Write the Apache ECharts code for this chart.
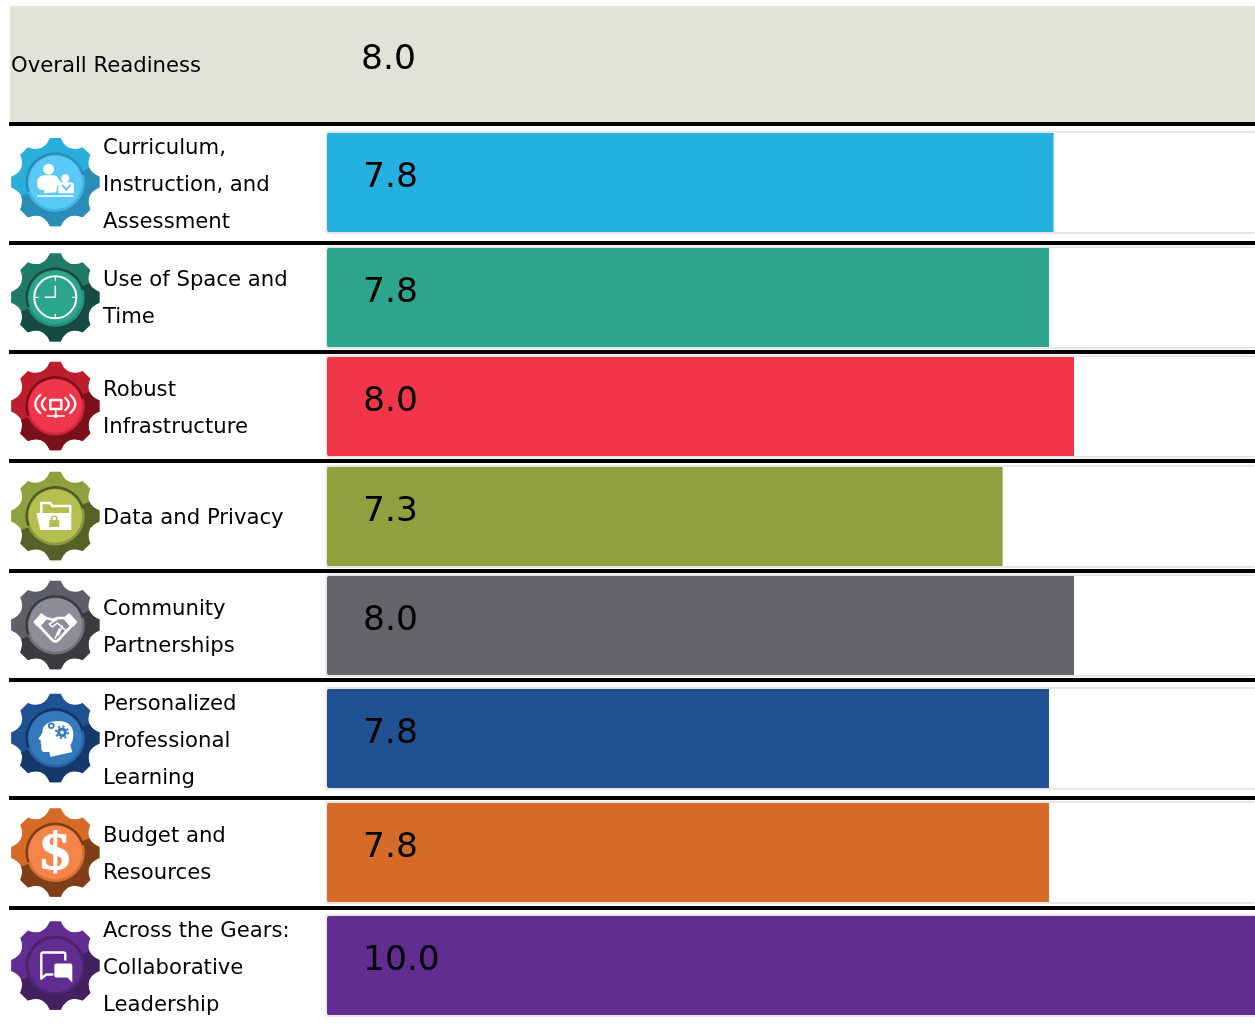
<!DOCTYPE html>
<html>
<head>
<meta charset="utf-8">
<title>Readiness</title>
<style>
  html, body { margin: 0; padding: 0; background: #fff; }
  #chart { width: 1255px; height: 1024px; }
</style>
<script src="https://cdn.jsdelivr.net/npm/echarts@6/dist/echarts.min.js"></script>
</head>
<body>
<div id="chart"></div>
<script>
// values
const categories = [
  "Overall Readiness",
  "Curriculum,\nInstruction, and\nAssessment",
  "Use of Space and\nTime",
  "Robust\nInfrastructure",
  "Data and Privacy",
  "Community\nPartnerships",
  "Personalized\nProfessional\nLearning",
  "Budget and\nResources",
  "Across the Gears:\nCollaborative\nLeadership",
];
const barValues = [8.05, 7.83, 7.78, 8.05, 7.28, 8.05, 7.78, 7.78, 10];
const valueLabels = ["8.0", "7.8", "7.8", "8.0", "7.3", "8.0", "7.8", "7.8", "10.0"];
const barColors = ["transparent", "#25b1e0", "#2da58c", "#f2364a", "#91a03f", "#646368", "#1f5193", "#d66b27", "#622d90"];

// layout
const FONT = "DejaVu Sans";
const plotLeft = 327;
const plotWidth = 928;
const barTops = [6, 133, 248, 357, 467, 576, 689, 803, 916];
const barHeight = 99;
const ruleTops = [122, 241, 350, 459, 569, 678, 796, 906];
const gearCenters = [182.2, 297.3, 406, 516, 625, 738, 852.5, 965.5];
// thin spacer line above each label block, nudges the text down by half of it
const labelSpacers = [4, 6, 2, 4, 4, 4, 6, 4, 6];
// gear colours: light half, dark half, dark arc, disc, lower ring
const gearColors = [
  ["#29afde", "#2a8db5", "#2a8db5", "#5ac9f5", "#3fb5e3"],
  ["#217a68", "#174a40", "#174a40", "#2ca58d", "#24907c"],
  ["#bd1e2d", "#7a1019", "#7a1019", "#f0364a", "#c8283a"],
  ["#8fa03f", "#556128", "#4f5a25", "#b5bf4f", "#8c9a3e"],
  ["#5f6067", "#3a3b3f", "#3a3b3f", "#8b8e99", "#6f7079"],
  ["#1f5193", "#16396b", "#123563", "#3579bd", "#2a63a8"],
  ["#d66b27", "#7e3f18", "#7b3e19", "#f5854a", "#d97034"],
  ["#622d90", "#43205f", "#4a2468", "#622d90", "#4f2578"],
];

const polar = (deg, r) => [r * Math.cos((deg * Math.PI) / 180), r * Math.sin((deg * Math.PI) / 180)];
const xy = (p) => p[0].toFixed(2) + "," + p[1].toFixed(2);
const midpoint = (a, b) => [(a[0] + b[0]) / 2, (a[1] + b[1]) / 2];

const TIP_R = 44.5;
const VALLEY_CTRL_R = 31;
const TIP_HALF = 7;

// outline through teeth first..last, each tooth centred at k * 45 - 90 degrees
function teethPath(first, last, closedRing) {
  let d = "";
  for (let k = first; k <= last; k++) {
    const a = k * 45 - 90;
    const left = polar(a - TIP_HALF, TIP_R);
    const right = polar(a + TIP_HALF, TIP_R);
    d += (k === first && closedRing ? "M" : " L") + xy(left) + " L" + xy(right);
    if (k < last) {
      d += " Q" + xy(polar(a + 22.5, VALLEY_CTRL_R)) + " " + xy(polar(a + 45 - TIP_HALF, TIP_R));
    }
  }
  return d;
}

function fullGearPath() {
  const a = 7 * 45 - 90;
  return teethPath(0, 7, true) + " Q" + xy(polar(a + 22.5, VALLEY_CTRL_R)) + " " + xy(polar(a + 45 - TIP_HALF, TIP_R)) + " Z";
}

// lower right half: starts and ends mid valley so it meets the light half cleanly
function darkGearPath(first, last) {
  const a0 = first * 45 - 90;
  const a1 = last * 45 - 90;
  const startTip = polar(a0 - TIP_HALF, TIP_R);
  const prevTip = polar(a0 - 45 + TIP_HALF, TIP_R);
  const startCtrl = polar(a0 - 22.5, VALLEY_CTRL_R);
  const endTip = polar(a1 + TIP_HALF, TIP_R);
  const nextTip = polar(a1 + 45 - TIP_HALF, TIP_R);
  const endCtrl = polar(a1 + 22.5, VALLEY_CTRL_R);
  const startMid = midpoint(midpoint(prevTip, startCtrl), midpoint(startCtrl, startTip));
  const endMid = midpoint(midpoint(endTip, endCtrl), midpoint(endCtrl, nextTip));
  return (
    "M0,0 L" + xy(startMid) +
    " Q" + xy(midpoint(startCtrl, startTip)) + " " + xy(startTip) +
    teethPath(first, last, false) +
    " Q" + xy(midpoint(endTip, endCtrl)) + " " + xy(endMid) + " Z"
  );
}

// the graphic component has no plain "path" type, so each glyph gets registered as a shape
const shapeNames = new Map();
function shapeType(d) {
  if (!shapeNames.has(d)) {
    const name = "glyph" + shapeNames.size;
    echarts.graphic.registerShape(name, echarts.graphic.extendPath(d, {}));
    shapeNames.set(d, name);
  }
  return shapeNames.get(d);
}

const WHITE = "#fff";
const fillPath = (d, fill) => ({ type: shapeType(d), style: { fill: fill || WHITE } });
const linePath = (d, w, stroke, fill) => ({
  type: shapeType(d),
  style: { fill: fill || "none", stroke: stroke || WHITE, lineWidth: w, lineCap: "round", lineJoin: "round" },
});
const dot = (cx, cy, r, fill) => ({ type: "circle", shape: { cx, cy, r }, style: { fill: fill || WHITE } });

// one small white glyph per gear
const iconBuilders = [
  (c) => [
    dot(-6.7, -13, 5.5),
    fillPath("M-18,0 Q-18,-6 -12,-7 L-2,-7 Q2,-7 3,-3 L6,0 L2,3 L1,10 L-11,11 L-11,8 Q-18,8 -18,3 Z"),
    dot(10, -4, 4),
    fillPath("M3,2 Q3,0 6,0 L15,0 Q18,0 18.5,2 L18.5,11 L3,11 Z"),
    linePath("M7,3 L11,7.5 L15,3", 1.8, c[3]),
    fillPath("M-18,13 L18,13 L18,14.6 L-18,14.6 Z"),
  ],
  () => {
    const ticks = [];
    for (let i = 0; i < 12; i += 3) {
      ticks.push(linePath("M" + xy(polar(i * 30, 17)) + " L" + xy(polar(i * 30, 20)), 1.2));
    }
    return [
      { type: "circle", shape: { cx: 0, cy: 0, r: 21 }, style: { fill: "none", stroke: WHITE, lineWidth: 2 } },
      ...ticks,
      linePath("M0,-11 L0,0 L-10,0", 1.6),
    ];
  },
  () => [
    linePath("M-10,-8 Q-17,-2 -10,4", 2.3),
    linePath("M-15,-11 Q-25,-2 -15,7", 2.3),
    linePath("M10,-8 Q17,-2 10,4", 2.3),
    linePath("M15,-11 Q25,-2 15,7", 2.3),
    linePath("M-5,-6 L6,-6 L6,3 L-5,3 Z", 2.4),
    linePath("M0.5,3 L0.5,9.5 M-8,10 L9,10", 1.6),
    dot(0.5, 10, 2),
  ],
  (c) => [
    linePath("M-14,-4 L-14,-13 L-5,-13 L-3,-10 L15,-10 L15,-4", 2.5),
    fillPath("M-19,-3 L16,-3 L16,14 L-15,14 Z"),
    fillPath("M-6,4 L4,4 L4,11 L-6,11 Z", c[3]),
    linePath("M-3.5,4 L-3.5,1.5 Q-1,-1.5 1.5,1.5 L1.5,4", 1.6, c[3]),
  ],
  () => [
    fillPath("M-22,-3 L-14,-12 L-9,-8 L-18,2 Z"),
    fillPath("M22,-3 L14,-12 L9,-8 L18,2 Z"),
    linePath("M-16,1 L-9,-7 L-2,-5 L2,-7 L9,-7 L16,1 L3,15 Q0,18 -3,15 Z", 2.6),
    linePath("M2,-6 L-6,-1 L-3,2 L2,-2 L11,6 M7,1 L3,10 M4,4 L0,13", 1.6),
  ],
  (c) => [
    fillPath("M3,-17 Q18,-17 18,-3 Q18,3 15,7 L17,14 L-5,19 L-6,14 L-11,14 Q-14,14 -14,10 L-14,6 L-15,5 L-14,3 L-17,1 L-13,-5 Q-13,-17 3,-17 Z"),
    { type: "circle", shape: { cx: 6.7, cy: -5.7, r: 3.4 }, style: { fill: WHITE, stroke: c[3], lineWidth: 3 } },
    { type: "circle", shape: { cx: 6.7, cy: -5.7, r: 6 }, style: { fill: "none", stroke: c[3], lineWidth: 2, lineDash: [2, 2.7] } },
    { type: "circle", shape: { cx: -4, cy: -12.3, r: 2.4 }, style: { fill: WHITE, stroke: c[3], lineWidth: 1.8 } },
  ],
  () => [
    {
      type: "text",
      scaleX: 1.15,
      style: {
        text: "$",
        x: 0,
        y: 3,
        fill: WHITE,
        stroke: WHITE,
        lineWidth: 0.8,
        font: 'bold 52px "Liberation Serif"',
        align: "center",
        verticalAlign: "middle",
      },
    },
  ],
  () => [
    linePath("M-3,9 L-9,9 L-14,13 L-14,-11 Q-14,-13 -12,-13 L8,-13 Q10,-13 10,-11 L10,-6", 2.4),
    fillPath("M1,-2 L15,-2 Q17,-2 17,0 L17,17 L12,12 L1,12 Q-1,12 -1,10 L-1,0 Q-1,-2 1,-2 Z"),
  ],
];

const lightGear = fullGearPath();
const darkGear = darkGearPath(2, 5);

const graphics = [
  { type: "rect", shape: { x: 10, y: 6, width: 1245, height: 116 }, style: { fill: "#e1e3d6" } },
  ...ruleTops.map((y) => ({
    type: "rect",
    shape: { x: 9, y, width: 1246, height: 4 },
    style: { fill: "#000" },
  })),
  // gray track behind each bar, open on the right
  ...barTops.slice(1).flatMap((y) => [
    {
      type: "rect",
      shape: { x: plotLeft - 1.5, y: y - 2, width: plotWidth + 1.5, height: barHeight + 4, r: 2 },
      style: { fill: "#e6e6e6" },
    },
    {
      type: "rect",
      shape: { x: plotLeft, y, width: plotWidth, height: barHeight },
      style: { fill: "#fff" },
    },
  ]),
  ...gearCenters.map((cy, i) => {
    const c = gearColors[i];
    return {
      type: "group",
      x: 55.3,
      y: cy,
      children: [
        fillPath(lightGear, c[0]),
        fillPath(darkGear, c[1]),
        dot(0, 0, 29.5, c[4]),
        {
          type: "arc",
          shape: { cx: 0, cy: 0, r: 28.6, startAngle: (160 * Math.PI) / 180, endAngle: (345 * Math.PI) / 180, clockwise: true },
          style: { fill: "none", stroke: c[2], lineWidth: 2.4 },
        },
        dot(0, 0, 26.8, c[3]),
        { type: "group", children: iconBuilders[i](c) },
      ],
    };
  }),
];

const chart = echarts.init(document.getElementById("chart"), null, { renderer: "canvas" });

chart.setOption({
  animation: false,
  backgroundColor: "#fff",
  textStyle: { fontFamily: FONT },
  graphic: graphics,
  grid: barTops.map((top, i) => ({
    left: plotLeft,
    width: plotWidth,
    top,
    height: i === 0 ? 116 : barHeight,
  })),
  xAxis: barTops.map((_, i) => ({
    type: "value",
    gridIndex: i,
    min: 0,
    max: 10,
    show: false,
  })),
  yAxis: categories.map((name, i) => ({
    type: "category",
    gridIndex: i,
    data: [name],
    axisLine: { show: false },
    axisTick: { show: false },
    splitLine: { show: false },
    axisLabel: {
      align: "left",
      margin: i === 0 ? 316 : 224,
      formatter: (value) => "{s| }\n" + value.split("\n").map((line) => "{t|" + line + "}").join("\n"),
      rich: {
        s: { fontSize: 1, lineHeight: labelSpacers[i] },
        t: { color: "#000", fontFamily: FONT, fontSize: 21.2, lineHeight: 37 },
      },
    },
  })),
  series: barValues.map((value, i) => ({
    type: "bar",
    silent: true,
    xAxisIndex: i,
    yAxisIndex: i,
    data: [value],
    barWidth: i === 0 ? 116 : barHeight,
    itemStyle: { color: barColors[i], borderRadius: i === 0 ? 0 : [2, 0, 0, 2] },
    label: {
      show: true,
      position: i === 0 ? [34, 37] : [36, 28],
      formatter: () => valueLabels[i],
      color: "#000",
      fontFamily: FONT,
      fontSize: 34.5,
      verticalAlign: "top",
    },
  })),
});

window.addEventListener("resize", () => chart.resize());
</script>
</body>
</html>
